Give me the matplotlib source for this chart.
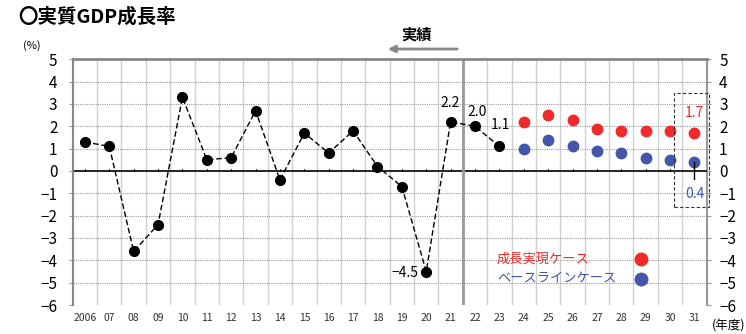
import matplotlib
matplotlib.use("Agg")
import matplotlib.pyplot as plt
import numpy as np

plt.rcParams['font.family'] = ['Noto Sans CJK JP', 'DejaVu Sans']

actual_years = list(range(2006, 2024))
actual_vals = [1.3, 1.1, -3.6, -2.4, 3.3, 0.5, 0.6, 2.7, -0.4, 1.7, 0.8, 1.8, 0.2, -0.7, -4.5, 2.2, 2.0, 1.1]
proj_years = list(range(2024, 2032))
growth_case = [2.2, 2.5, 2.3, 1.9, 1.8, 1.8, 1.8, 1.7]
baseline_case = [1.0, 1.4, 1.1, 0.9, 0.8, 0.6, 0.5, 0.4]
all_years = list(range(2006, 2032))
xtick_labels = ['2006'] + ['%02d' % (y % 100) for y in range(2007, 2032)]
yticks = list(range(-6, 6))

RED = '#ee2a2a'
BLUE = '#4455aa'

fig = plt.figure(figsize=(7.46, 3.34), dpi=100)
ax = fig.add_axes([0.0975, 0.0868, 0.8497, 0.7357])
ax.set_xlim(2005.5, 2031.5)
ax.set_ylim(-6, 5)

# grid
for b in np.arange(2006.5, 2031.5, 1.0):
    ax.axvline(b, color='#d0d0d0', lw=1.0, zorder=0)
for yv in yticks:
    if yv not in (0, 5, -6):
        ax.axhline(yv, color='#999999', lw=0.8, ls=(0, (1, 1)), zorder=0)
ax.axhline(0, color='black', lw=1.2, zorder=1)
ax.axvline(2021.5, color='#999999', lw=2.0, zorder=1)

# zero-line ticks
for x in all_years:
    ax.plot([x, x], [0, 0.1], color='black', lw=0.6, zorder=1)

# actual series
ax.plot(actual_years, actual_vals, color='black', lw=1.0, ls=(0, (4, 2)),
        marker='o', ms=7, zorder=3)
ax.plot(proj_years, growth_case, ls='none', marker='o', ms=7.5, color=RED, zorder=3)
ax.plot(proj_years, baseline_case, ls='none', marker='o', ms=7.5, color=BLUE, zorder=3)

# labels
ax.text(2021, 3.05, '2.2', ha='center', va='center', fontsize=10)
ax.text(2022.1, 2.65, '2.0', ha='center', va='center', fontsize=10)
ax.text(2023.05, 2.05, '1.1', ha='center', va='center', fontsize=10)
ax.text(2019.7, -4.55, '\u22124.5', ha='right', va='center', fontsize=10)
ax.text(2031, 2.6, '1.7', ha='center', va='center', fontsize=10, color=RED)
ax.text(2031, -1.03, '0.4', ha='center', va='center', fontsize=10, color=BLUE)
ax.plot([2031, 2031], [0.4, -0.35], color='black', lw=1.0, zorder=4)

# dashed box
ax.add_patch(plt.Rectangle((2030.15, -1.6), 1.45, 5.1, fill=False, ls=(0, (3, 2)),
                           lw=0.8, ec='#333333', clip_on=False, zorder=5))

# legend
ax.text(2022.9, -3.95, '成長実現ケース', color=RED, fontsize=9.5, va='center', ha='left')
ax.text(2022.9, -4.85, 'ベースラインケース', color=BLUE, fontsize=9.5, va='center', ha='left')
ax.plot([2028.8], [-3.95], 'o', color=RED, ms=9)
ax.plot([2028.8], [-4.85], 'o', color=BLUE, ms=9)

# axes styling
ax.set_yticks(yticks)
ax.set_yticklabels([('\u2212%d' % -v) if v < 0 else str(v) for v in yticks], fontsize=11)
ax.tick_params(axis='y', direction='out', length=3, color='#999999', pad=8)
ax.set_xticks(all_years)
ax.set_xticklabels(xtick_labels, fontsize=7.5, color='#333333')
ax.tick_params(axis='x', length=0, pad=6)
sec = ax.secondary_yaxis('right')
sec.set_yticks(yticks)
sec.set_yticklabels([('\u2212%d' % -v) if v < 0 else str(v) for v in yticks], fontsize=11)
sec.tick_params(direction='out', length=3, color='#999999', pad=6)
sec.spines['right'].set_color('#999999')
sec.spines['right'].set_linewidth(1.5)
for s in ['left', 'top', 'right']:
    ax.spines[s].set_color('#888888')
ax.spines['top'].set_linewidth(2.0)
ax.spines['left'].set_linewidth(1.5)
ax.spines['right'].set_visible(False)
ax.spines['bottom'].set_visible(False)

# title and annotations
fig.text(18 / 746, 1 - 17 / 334, '〇実質GDP成長率', fontsize=14, fontweight='bold', va='center', ha='left')
fig.text(23 / 746, 1 - 46 / 334, '(%)', fontsize=8, va='center', ha='left')
fig.text(712 / 746, 1 - 326 / 334, '(年度)', fontsize=9, va='center', ha='left')
fig.text(417 / 746, 1 - 35 / 334, '実績', fontsize=11, fontweight='bold', va='center', ha='center')
ax.annotate('', xy=(385 / 746, 1 - 49 / 334), xytext=(460 / 746, 1 - 49 / 334),
            xycoords='figure fraction', textcoords='figure fraction',
            arrowprops=dict(arrowstyle='-|>', color='#888888', lw=2, mutation_scale=10))

fig.savefig('out.png', dpi=100)
